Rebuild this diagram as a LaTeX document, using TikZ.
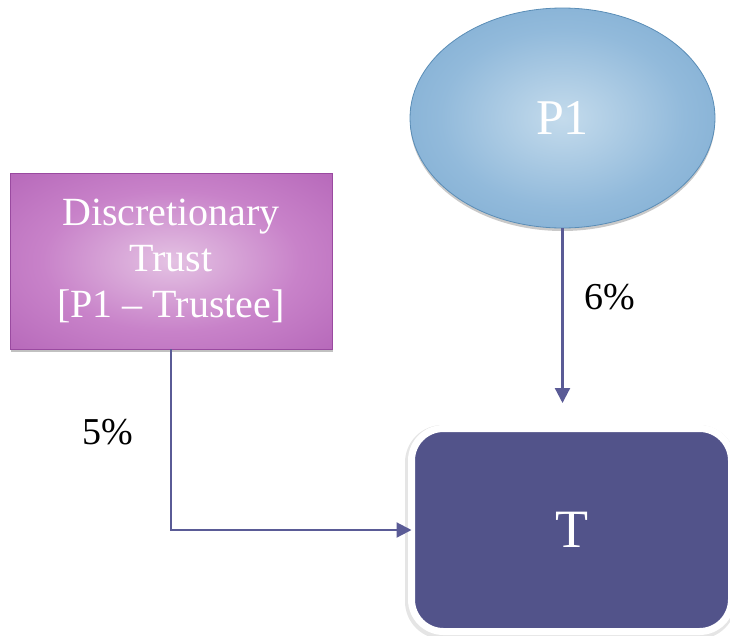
\documentclass[tikz,border=0pt]{standalone}
\usepackage{fontspec}
\setmainfont{Liberation Serif}
\usetikzlibrary{shapes.geometric,shadows,arrows.meta,calc}
\definecolor{trustin}{HTML}{E4C2E3}
\definecolor{trustmid}{HTML}{C882C9}
\definecolor{trustout}{HTML}{B262B6}
\definecolor{trustcorner}{HTML}{A24EA8}
\definecolor{trustedge}{HTML}{9A4AA0}
\definecolor{pin}{HTML}{C4DBEC}
\definecolor{pmid}{HTML}{92BADB}
\definecolor{pout}{HTML}{74A5CD}
\definecolor{pcorner}{HTML}{6A9DC8}
\definecolor{pedge}{HTML}{5A8DB6}
\definecolor{tfill}{HTML}{52538A}
\definecolor{conncol}{HTML}{5A5B96}
\pgfdeclareradialshading{trustshade}{\pgfpoint{0bp}{0bp}}{color(0bp)=(trustin); color(20bp)=(trustmid); color(40bp)=(trustout); color(50bp)=(trustcorner)}
\pgfdeclareradialshading{pshade}{\pgfpoint{0bp}{0bp}}{color(0bp)=(pin); color(20bp)=(pmid); color(40bp)=(pout); color(50bp)=(pcorner)}
\tikzset{
  trustbox/.style={rectangle, minimum width=322pt, minimum height=176pt,
    shading=trustshade,
    draw=trustedge, line width=0.6pt,
    drop shadow={shadow xshift=1pt, shadow yshift=-3pt, opacity=0.35, fill=black!70},
    text=white, align=center, font=\fontsize{40}{46}\selectfont},
  personnode/.style={ellipse, minimum width=305pt, minimum height=220pt, inner sep=0pt,
    shading=pshade,
    draw=pedge, line width=0.8pt,
    drop shadow={shadow xshift=0pt, shadow yshift=-3pt, opacity=0.3, fill=black!70},
    text=white, font=\fontsize{50}{54}\selectfont},
  targetbox/.style={rectangle, rounded corners=32pt, minimum width=320pt, minimum height=203pt,
    outer sep=0pt, fill=tfill, draw=white, line width=7pt,
    preaction={draw=black!10, line width=11pt, transform canvas={xshift=-1pt,yshift=-2pt}},
    text=white, font=\fontsize{54}{58}\selectfont},
  conn/.style={draw=conncol, line width=2.2pt, -{Triangle[length=15pt,width=15pt]}},
  pct/.style={text=black, font=\fontsize{38}{42}\selectfont}
}
\begin{document}
\begin{tikzpicture}[x=1pt,y=-1pt]
\useasboundingbox (0,0) rectangle (730,635);
\node[personnode] (p1) at (562.5,118) {P1};
\node[trustbox] (trust) at (171,261) {Discretionary\\Trust\\{[}P1 -- Trustee{]}};
\node[targetbox] (t) at (571.5,530) {T};
\draw[conn] (p1.south) -- ([yshift=25.5pt]p1.south |- t.north);
\draw[conn] (trust.south) |- (t.west);
\node[pct] (l6) at (610,297) {6\%};
\node[pct] (l5) at (108,432) {5\%};
\end{tikzpicture}
\end{document}
